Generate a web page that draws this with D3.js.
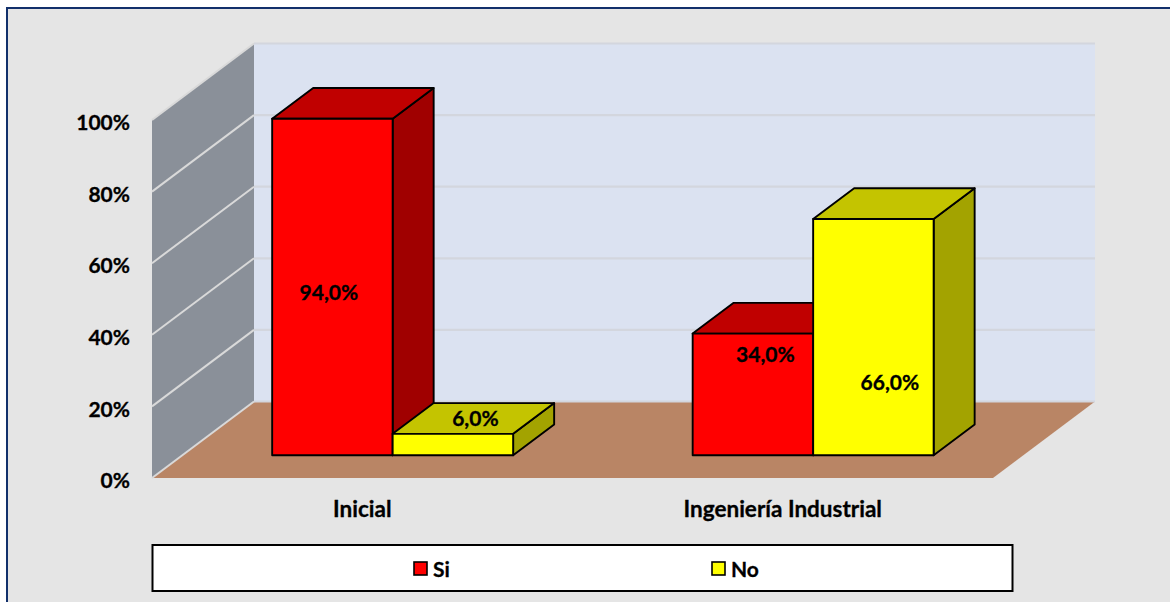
<!DOCTYPE html>
<html>
<head>
<meta charset="utf-8">
<script src="https://cdn.jsdelivr.net/npm/d3@7"></script>
<style>
  html, body { margin: 0; padding: 0; background: #fff; overflow: hidden; }
  svg { display: block; }
  text { font-family: Lato, "Open Sans", sans-serif; font-weight: 700; fill: #000; stroke: #000; stroke-width: 0.3px; }
</style>
</head>
<body>
<div id="chart"></div>
<script>
// ---------- data ----------
var categories = ["Inicial", "Ingeniería Industrial"];
var seriesNames = ["Si", "No"];
var siValues = [94, 34];
var noValues = [6, 66];
var yTicks = [0, 20, 40, 60, 80, 100];

var seriesColors = {
  Si: { front: "#ff0000", top: "#c00000", side: "#a00000" },
  No: { front: "#ffff00", top: "#c4c400", side: "#a3a300" }
};

var width = 1170, height = 602;

var svg = d3.select("#chart").append("svg")
  .attr("width", width)
  .attr("height", height);

// chart frame, the bottom and right edges are cut by the picture
svg.append("rect").attr("x", 7).attr("y", 8).attr("width", width).attr("height", height).attr("fill", "#e5e5e5");
svg.append("path").attr("d", "M7,602V8H1170").attr("fill", "none").attr("stroke", "#12306b").attr("stroke-width", 2);

// ---------- scales ----------
var floorLeft = 152, floorRight = 993;
var depthX = 102, depthY = -76.5;   // oblique offset of the full floor depth
var barZ0 = 0.303, barZ1 = 0.705;

var y = d3.scaleLinear().domain([0, 100]).range([478, 120]);
var x0 = d3.scaleBand().domain(categories).range([floorLeft, floorRight]);
var x1 = d3.scaleBand().domain(seriesNames).range([0, x0.bandwidth()]).paddingInner(0).paddingOuter(0.745);

// screen position of (plot x, value, depth)
function px(x, v, z) { return [x + depthX * z, y(v) + depthY * z]; }
function poly(points) { return d3.line()(points) + "Z"; }

// ---------- walls and floor ----------
svg.append("path").attr("fill", "#dbe2f1")
  .attr("d", poly([px(floorLeft, 0, 1), px(floorRight, 0, 1), px(floorRight, 100, 1), px(floorLeft, 100, 1)]));
svg.append("path").attr("fill", "#8a9099")
  .attr("d", poly([px(floorLeft, 0, 0), px(floorLeft, 0, 1), px(floorLeft, 100, 1), px(floorLeft, 100, 0)]));
svg.append("path").attr("fill", "#b98565")
  .attr("d", poly([px(floorLeft, 0, 0), px(floorRight, 0, 0), px(floorRight, 0, 1), px(floorLeft, 0, 1)]));

// gridlines run along the side wall then the back wall
svg.append("g").selectAll("path").data(yTicks).join("path")
  .attr("fill", "none")
  .attr("stroke", "#d9d9d9")
  .attr("stroke-width", 2)
  .attr("d", function(d) { return d3.line()([px(floorLeft, d, 0), px(floorLeft, d, 1)]); });
svg.append("g").selectAll("path").data(yTicks).join("path")
  .attr("fill", "none")
  .attr("stroke", "#d3d6de")
  .attr("stroke-width", 2.2)
  .attr("d", function(d) { return d3.line()([px(floorLeft, d, 1), px(floorRight, d, 1)]); });

// ---------- axes ----------
var yAxis = svg.append("g")
  .attr("transform", "translate(133,3)")
  .call(d3.axisLeft(y).tickValues(yTicks).tickSize(0).tickFormat(function(d) { return d + "%"; }));
yAxis.select(".domain").remove();
yAxis.selectAll("text").attr("font-size", 21);
yAxis.attr("font-size", 21);

svg.append("g").selectAll("text").data(categories).join("text")
  .attr("x", function(d) { return x0(d) + x0.bandwidth() / 2; })
  .attr("y", 517)
  .attr("text-anchor", "middle")
  .attr("font-size", 22.5)
  .text(function(d) { return d; });

// ---------- bars ----------
var rows = [];
categories.forEach(function(c, i) {
  rows.push({ category: c, series: "Si", value: siValues[i] });
  rows.push({ category: c, series: "No", value: noValues[i] });
});

var bars = svg.append("g").attr("transform", "translate(-0.5,0.5)")
  .selectAll("g").data(rows).join("g")
  .attr("stroke", "#000")
  .attr("stroke-width", 1.9)
  .attr("stroke-linejoin", "round");

function barX(d) { return x0(d.category) + x1(d.series); }

bars.append("path")
  .attr("fill", function(d) { return seriesColors[d.series].side; })
  .attr("d", function(d) {
    var r = barX(d) + x1.bandwidth();
    return poly([px(r, 0, barZ0), px(r, 0, barZ1), px(r, d.value, barZ1), px(r, d.value, barZ0)]);
  });
bars.append("path")
  .attr("fill", function(d) { return seriesColors[d.series].top; })
  .attr("d", function(d) {
    var l = barX(d), r = l + x1.bandwidth();
    return poly([px(l, d.value, barZ0), px(r, d.value, barZ0), px(r, d.value, barZ1), px(l, d.value, barZ1)]);
  });
bars.append("path")
  .attr("fill", function(d) { return seriesColors[d.series].front; })
  .attr("d", function(d) {
    var l = barX(d), r = l + x1.bandwidth();
    return poly([px(l, 0, barZ0), px(r, 0, barZ0), px(r, d.value, barZ0), px(l, d.value, barZ0)]);
  });

// ---------- data labels, hand placed in the original ----------
var labelNudge = {
  "Inicial|Si": [-4, 13],
  "Inicial|No": [22, -18.5],
  "Ingeniería Industrial|Si": [12, -31.5],
  "Ingeniería Industrial|No": [16, 53]
};
svg.append("g").selectAll("text").data(rows).join("text")
  .attr("text-anchor", "middle")
  .attr("font-size", 21)
  .attr("x", function(d) { return px(barX(d) + x1.bandwidth() / 2, 0, barZ0)[0] + labelNudge[d.category + "|" + d.series][0]; })
  .attr("y", function(d) { return px(0, d.value / 2, barZ0)[1] + labelNudge[d.category + "|" + d.series][1]; })
  .text(function(d) { return d.value.toFixed(1).replace(".", ",") + "%"; });

// ---------- legend ----------
svg.append("rect")
  .attr("x", 152.5).attr("y", 545).attr("width", 860).attr("height", 46)
  .attr("fill", "#fff").attr("stroke", "#000").attr("stroke-width", 2);

var legendX = d3.scaleOrdinal().domain(seriesNames).range([414, 712]);
var legend = svg.append("g").selectAll("g").data(seriesNames).join("g")
  .attr("transform", function(d) { return "translate(" + legendX(d) + ",562)"; });
legend.append("rect")
  .attr("width", 13).attr("height", 13)
  .attr("fill", function(d) { return seriesColors[d].front; })
  .attr("stroke", "#000").attr("stroke-width", 1.6);
legend.append("text")
  .attr("x", 19).attr("y", 14.5)
  .attr("font-size", 21)
  .text(function(d) { return d; });
</script>
</body>
</html>
